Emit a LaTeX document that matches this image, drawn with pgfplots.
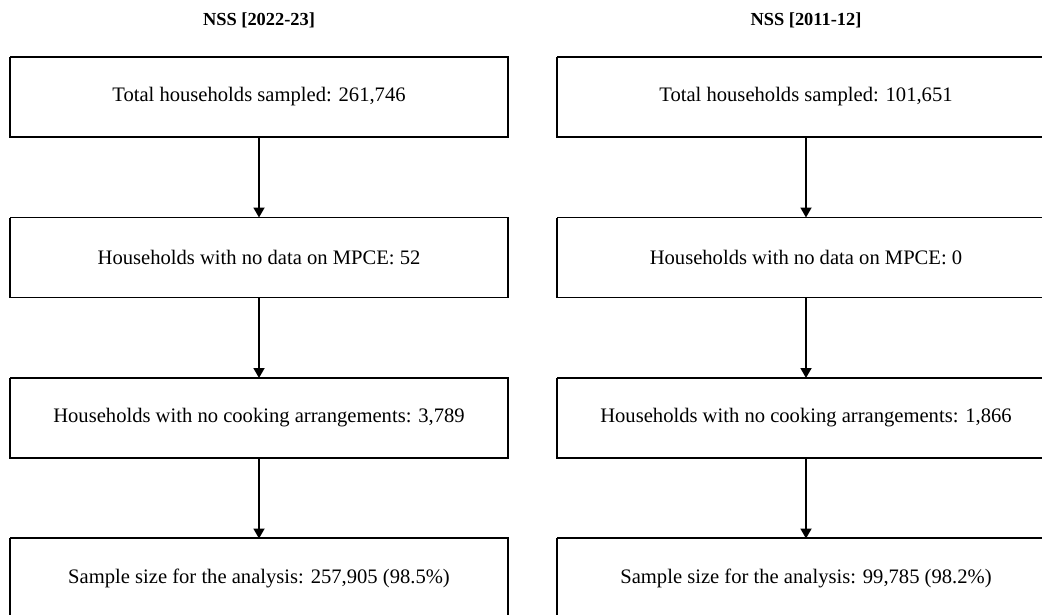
\documentclass[border=0pt]{standalone}
\usepackage{fontspec}
\setmainfont{Liberation Serif}
\usepackage{pgfplots}
\pgfplotsset{compat=1.18}
\usetikzlibrary{arrows.meta}

% flowchart drawn in pixel units of the reference (1 px = 0.5 bp)
\newcommand{\flowbox}[3]{% x0, y0(top), text
  \addplot[black, line width=0.9bp, sharp plot] coordinates
    {(#1,#2) (#1+498,#2) (#1+498,#2+80) (#1,#2+80) (#1,#2)};
  \node[font=\fontsize{10.3bp}{12bp}\selectfont] at (axis cs:#1+249,#2+40) {#3};
}
\newcommand{\flowarrow}[2]{% x, y(top of gap)
  \addplot[black, line width=0.9bp, -{Triangle[length=5bp,width=5.5bp]}] coordinates
    {(#1,#2) (#1,#2+80.5)};
}

\begin{document}
\begin{tikzpicture}
\begin{axis}[
  name=ax,
  width=521bp, height=307.5bp, scale only axis,
  xmin=0, xmax=1042, ymin=0, ymax=615, y dir=reverse,
  hide axis, clip=true,
]
\node[font=\bfseries\fontsize{9.2bp}{11bp}\selectfont] at (axis cs:259,20) {NSS [2022-23]};
\node[font=\bfseries\fontsize{9.2bp}{11bp}\selectfont] at (axis cs:806,20) {NSS [2011-12]};

\flowbox{10}{57}{Total households sampled: 261,746}
\flowbox{10}{217.5}{Households with no data on MPCE: 52}
\flowbox{10}{378}{Households with no cooking arrangements: 3,789}
\flowbox{10}{538}{Sample size for the analysis: 257,905 (98.5\%)}
\flowarrow{259}{137}
\flowarrow{259}{297.5}
\flowarrow{259}{458}

\flowbox{557}{57}{Total households sampled: 101,651}
\flowbox{557}{217.5}{Households with no data on MPCE: 0}
\flowbox{557}{378}{Households with no cooking arrangements: 1,866}
\flowbox{557}{538}{Sample size for the analysis: 99,785 (98.2\%)}
\flowarrow{806}{137}
\flowarrow{806}{297.5}
\flowarrow{806}{458}
\end{axis}
\pgfresetboundingbox
\useasboundingbox (ax.south west) rectangle (ax.north east);
\end{tikzpicture}
\end{document}
